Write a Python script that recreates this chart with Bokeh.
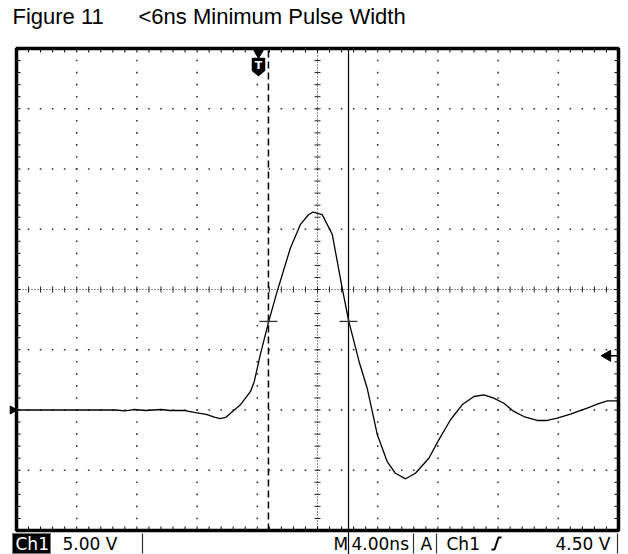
import numpy as np
from bokeh.plotting import figure
from bokeh.models import Range1d
from bokeh.core.properties import value
from bokeh.embed import file_html
from bokeh.resources import INLINE

# ---------------- data ----------------
title_left = "Figure 11"
title_right = "<6ns Minimum Pulse Width"

time_ns = [-20.0, -13.4, -12.8, -12.2, -11.4, -10.4, -9.8, -8.9, -8.1, -7.4,
           -6.8, -6.45, -6.1, -5.8, -5.1, -4.45, -4.2, -3.8, -3.24, -2.68,
           -1.8, -1.13, -0.6, -0.29, 0.31, 0.98, 1.64, 2.08, 2.76, 3.30,
           3.97, 4.63, 5.18, 5.85, 6.51, 7.40, 8.06, 8.84, 9.61, 10.39,
           11.05, 11.71, 12.38, 13.04, 13.71, 14.60, 15.26, 15.93, 16.81, 17.92,
           18.59, 19.25, 19.91]
volts = [0.0, 0.0, -0.08, 0.04, -0.04, 0.04, -0.04, -0.04, -0.21, -0.37,
         -0.62, -0.71, -0.62, -0.29, 0.46, 1.54, 2.37, 4.6, 7.35, 9.84,
         13.44, 15.41, 16.2, 16.43, 16.21, 14.58, 10.12, 7.35, 4.03, 1.81,
         -2.03, -4.28, -5.25, -5.71, -5.25, -4.00, -2.48, -0.81, 0.43, 1.12,
         1.26, 0.98, 0.56, -0.12, -0.54, -0.87, -0.87, -0.68, -0.35, 0.15,
         0.48, 0.76, 0.76]

cursor_times_ns = [-3.26, 2.06]
cursor_level_v = 7.35
trigger_time_ns = -3.92
trigger_level_v = 4.5

status_labels = ["Ch1", "5.00 V", "M", "4.00ns", "A", "Ch1", "4.50 V"]

# scope settings
NS_PER_DIV = 4.0
V_PER_DIV = 5.0
N_HDIV = 10
N_VDIV = 8
V_BOTTOM = -10.0

# ---------------- layout (canvas pixels) ----------------
W, H = 628, 554
FX0, FX1 = 16, 618
FY0, FY1 = 48, 530

x_lo = -N_HDIV / 2 * NS_PER_DIV
x_hi = N_HDIV / 2 * NS_PER_DIV
y_lo = V_BOTTOM
y_hi = V_BOTTOM + N_VDIV * V_PER_DIV
sx = (FX1 - FX0) / (x_hi - x_lo)
sy = (FY1 - FY0) / (y_hi - y_lo)


def X(px):
    return x_lo + (px - FX0) / sx


def Y(py):
    return y_hi - (py - FY0) / sy


p = figure(width=W, height=H,
           x_range=Range1d(X(0), X(W)),
           y_range=Range1d(Y(H), Y(0)),
           x_axis_type=None, y_axis_type=None,
           output_backend="svg", toolbar_location=None,
           min_border=0, outline_line_color=None)
p.grid.grid_line_color = None
p.background_fill_color = "white"
p.border_fill_color = "white"

# ---------------- graticule ----------------
fine_x = x_lo + np.arange(0, N_HDIV * 5 + 1) * NS_PER_DIV / 5
fine_y = y_lo + np.arange(0, N_VDIV * 5 + 1) * V_PER_DIV / 5
xc = (x_lo + x_hi) / 2
yc = (y_lo + y_hi) / 2
major_x = [x_lo + k * NS_PER_DIV for k in range(1, N_HDIV) if k != N_HDIV // 2]
major_y = [y_lo + k * V_PER_DIV for k in range(1, N_VDIV) if k != N_VDIV // 2]

dx, dy = [], []
for mx in major_x:
    for fy in fine_y[1:-1]:
        dx.append(mx); dy.append(fy)
for my in major_y:
    for fx in fine_x[1:-1]:
        dx.append(fx); dy.append(my)
p.scatter(dx, dy, marker="square", size=1.6, color="#333333", line_color=None)

# centre lines
p.segment(x0=[xc, x_lo], y0=[y_lo, yc], x1=[xc, x_hi], y1=[y_hi, yc],
          line_color="#222222", line_width=1, line_dash="1 2")
tl = 3.0
p.segment(x0=[xc - tl / sx] * len(fine_y), x1=[xc + tl / sx] * len(fine_y),
          y0=list(fine_y), y1=list(fine_y), line_color="#222222", line_width=1)
p.segment(x0=list(fine_x), x1=list(fine_x),
          y0=[yc - tl / sy] * len(fine_x), y1=[yc + tl / sy] * len(fine_x),
          line_color="#222222", line_width=1)

# edge ticks
et = 4.0
p.segment(x0=list(fine_x), x1=list(fine_x), y0=[y_hi] * len(fine_x),
          y1=[y_hi - et / sy] * len(fine_x), line_color="black", line_width=1)
p.segment(x0=list(fine_x), x1=list(fine_x), y0=[y_lo] * len(fine_x),
          y1=[y_lo + et / sy] * len(fine_x), line_color="black", line_width=1)
p.segment(x0=[x_lo] * len(fine_y), x1=[x_lo + et / sx] * len(fine_y),
          y0=list(fine_y), y1=list(fine_y), line_color="black", line_width=1)
p.segment(x0=[x_hi] * len(fine_y), x1=[x_hi - et / sx] * len(fine_y),
          y0=list(fine_y), y1=list(fine_y), line_color="black", line_width=1)

# frame
p.quad(left=x_lo, right=x_hi, bottom=y_lo, top=y_hi, fill_color=None,
       line_color="black", line_width=3.5)

# ---------------- cursors ----------------
p.segment(x0=[cursor_times_ns[0]], x1=[cursor_times_ns[0]], y0=[y_lo], y1=[y_hi],
          line_color="black", line_width=1.5, line_dash="7 4")
p.segment(x0=[cursor_times_ns[1]], x1=[cursor_times_ns[1]], y0=[Y(H)], y1=[y_hi],
          line_color="black", line_width=1.2)

# ---------------- trace ----------------
p.line(time_ns, volts, line_color="black", line_width=1.3)

# cursor crossing marks
cw, ch = 9.0, 2.5
p.segment(x0=[c - cw / sx for c in cursor_times_ns], x1=[c + cw / sx for c in cursor_times_ns],
          y0=[cursor_level_v] * 2, y1=[cursor_level_v] * 2, line_color="#333333", line_width=1.3)
p.segment(x0=cursor_times_ns, x1=cursor_times_ns,
          y0=[cursor_level_v - ch / sy] * 2, y1=[cursor_level_v + ch / sy] * 2,
          line_color="#333333", line_width=1.3)

# ---------------- markers ----------------
# trigger position
p.scatter([trigger_time_ns], [Y(51)], marker="inverted_triangle", size=12, color="black")
bx, by = trigger_time_ns, Y(66)
shield = [(-6, -8), (6, -8), (6, 4), (0, 9), (-6, 4)]
p.patch([bx + a / sx for a, b in shield], [by - b / sy for a, b in shield],
        fill_color="black", line_color="black", line_width=1.5, line_join="round")
p.text([bx], [by + 1 / sy], text=["T"], text_color="white", text_font=value("DejaVu Sans"),
       text_font_style="bold", text_font_size="11px", text_align="center", text_baseline="middle")

# ground marker
p.scatter([X(12)], [0.0], marker="triangle", angle=-np.pi / 2, size=8, color="black")
# trigger level
p.scatter([X(607)], [trigger_level_v], marker="triangle", angle=np.pi / 2, size=11, color="black")
p.segment(x0=[X(608)], x1=[x_hi], y0=[trigger_level_v], y1=[trigger_level_v],
          line_color="black", line_width=1.5)

# ---------------- title ----------------
p.text([X(12), X(138)], [Y(16)] * 2, text=[title_left, title_right],
       text_font=value("Liberation Sans"), text_font_size="22px",
       text_baseline="middle", text_align="left", text_color="black")

# ---------------- status bar ----------------
bar_top, bar_bot = 533, 553
p.quad(left=X(12), right=X(50), top=Y(bar_top), bottom=Y(bar_bot),
       fill_color="black", line_color="#777777", line_width=1)
seps = [142, 413, 436, 617]
p.segment(x0=[X(s) for s in seps], x1=[X(s) for s in seps],
          y0=[Y(bar_top)] * len(seps), y1=[Y(bar_bot)] * len(seps),
          line_color="#333333", line_width=1.2)
sx_pos = [15, 62, 333, 351, 420, 446, 555]
colors = ["white"] + ["black"] * 6
p.text([X(v) for v in sx_pos], [Y(543)] * len(sx_pos), text=status_labels,
       text_color=colors, text_font=value("DejaVu Sans"), text_font_size="17px",
       text_baseline="middle", text_align="left")
# rising-edge trigger slope symbol
ex, ey = 496, 543
edge = [(-5, 6), (-2, 6), (2, -6), (5, -6)]
p.line([X(ex + a) for a, b in edge], [Y(ey + b) for a, b in edge],
       line_color="black", line_width=2)

open("out.html", "w").write(file_html(p, INLINE))
